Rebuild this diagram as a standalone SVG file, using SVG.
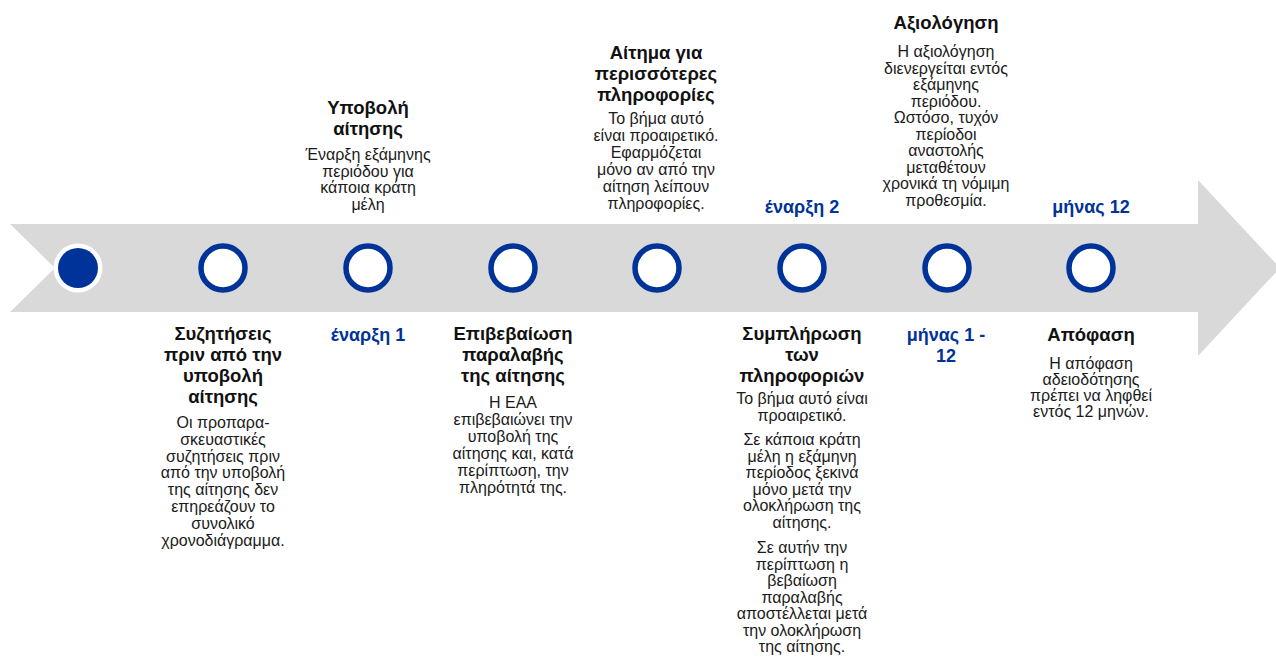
<svg xmlns="http://www.w3.org/2000/svg" width="1276" height="659" viewBox="0 0 1276 659">
<style>
text{font-family:"Liberation Sans",Arial,sans-serif;text-anchor:middle;fill:#1a1a1a}
.t{font-size:18.5px;font-weight:bold;fill:#111}
.b{font-size:16px}
.m{font-size:18px;font-weight:bold;fill:#003399}
.ring{fill:#fff;stroke:#003399;stroke-width:5.5}
</style>
<rect width="1276" height="659" fill="#fff"/>
<g id="connectors">
<path d="M10,224 L1198,224 L1198,180 L1280,268 L1198,356 L1198,312 L10,312 L55,268 Z" fill="#d9d9d9"/>
</g>
<g id="n1">
<circle cx="78" cy="268" r="24.5" fill="#fff"/>
<circle cx="78" cy="268" r="20" fill="#003399"/>
</g>
<g id="n2">
<circle class="ring" cx="223" cy="268" r="22"/>
<text class="t" x="223" y="340">Συζητήσεις</text>
<text class="t" x="223" y="361">πριν από την</text>
<text class="t" x="223" y="382">υποβολή</text>
<text class="t" x="223" y="403">αίτησης</text>
<text class="b" x="223" y="428">Οι προπαρα-</text>
<text class="b" x="223" y="444.8">σκευαστικές</text>
<text class="b" x="223" y="461.6">συζητήσεις πριν</text>
<text class="b" x="223" y="478.4">από την υποβολή</text>
<text class="b" x="223" y="495.2">της αίτησης δεν</text>
<text class="b" x="223" y="512">επηρεάζουν το</text>
<text class="b" x="223" y="528.8">συνολικό</text>
<text class="b" x="223" y="545.6">χρονοδιάγραμμα.</text>
</g>
<g id="n3">
<circle class="ring" cx="368" cy="268" r="22"/>
<text class="t" x="368" y="114">Υποβολή</text>
<text class="t" x="368" y="135">αίτησης</text>
<text class="b" x="368" y="160">Έναρξη εξάμηνης</text>
<text class="b" x="368" y="176.5">περιόδου για</text>
<text class="b" x="368" y="193">κάποια κράτη</text>
<text class="b" x="368" y="209.5">μέλη</text>
<text class="m" x="368" y="341">έναρξη 1</text>
</g>
<g id="n4">
<circle class="ring" cx="513" cy="268" r="22"/>
<text class="t" x="513" y="340">Επιβεβαίωση</text>
<text class="t" x="513" y="361">παραλαβής</text>
<text class="t" x="513" y="382">της αίτησης</text>
<text class="b" x="513" y="408">Η ΕΑΑ</text>
<text class="b" x="513" y="425">επιβεβαιώνει την</text>
<text class="b" x="513" y="442">υποβολή της</text>
<text class="b" x="513" y="459">αίτησης και, κατά</text>
<text class="b" x="513" y="476">περίπτωση, την</text>
<text class="b" x="513" y="493">πληρότητά της.</text>
</g>
<g id="n5">
<circle class="ring" cx="657" cy="268" r="22"/>
<text class="t" x="656" y="59">Αίτημα για</text>
<text class="t" x="656" y="80">περισσότερες</text>
<text class="t" x="656" y="101">πληροφορίες</text>
<text class="b" x="656" y="124">Το βήμα αυτό</text>
<text class="b" x="656" y="141">είναι προαιρετικό.</text>
<text class="b" x="656" y="158">Εφαρμόζεται</text>
<text class="b" x="656" y="175">μόνο αν από την</text>
<text class="b" x="656" y="192">αίτηση λείπουν</text>
<text class="b" x="656" y="209">πληροφορίες.</text>
</g>
<g id="n6">
<circle class="ring" cx="802" cy="268" r="22"/>
<text class="m" x="802" y="213">έναρξη 2</text>
<text class="t" x="802" y="340">Συμπλήρωση</text>
<text class="t" x="802" y="361">των</text>
<text class="t" x="802" y="382">πληροφοριών</text>
<text class="b" x="802" y="404">Το βήμα αυτό είναι</text>
<text class="b" x="802" y="420.5">προαιρετικό.</text>
<text class="b" x="802" y="445">Σε κάποια κράτη</text>
<text class="b" x="802" y="461.5">μέλη η εξάμηνη</text>
<text class="b" x="802" y="478">περίοδος ξεκινά</text>
<text class="b" x="802" y="494.5">μόνο μετά την</text>
<text class="b" x="802" y="511">ολοκλήρωση της</text>
<text class="b" x="802" y="527.5">αίτησης.</text>
<text class="b" x="802" y="553">Σε αυτήν την</text>
<text class="b" x="802" y="569.5">περίπτωση η</text>
<text class="b" x="802" y="586">βεβαίωση</text>
<text class="b" x="802" y="602.5">παραλαβής</text>
<text class="b" x="802" y="619">αποστέλλεται μετά</text>
<text class="b" x="802" y="635.5">την ολοκλήρωση</text>
<text class="b" x="802" y="652">της αίτησης.</text>
</g>
<g id="n7">
<circle class="ring" cx="947" cy="268" r="22"/>
<text class="t" x="946" y="29">Αξιολόγηση</text>
<text class="b" x="946" y="57">Η αξιολόγηση</text>
<text class="b" x="946" y="73.5">διενεργείται εντός</text>
<text class="b" x="946" y="90">εξάμηνης</text>
<text class="b" x="946" y="106.5">περιόδου.</text>
<text class="b" x="946" y="123">Ωστόσο, τυχόν</text>
<text class="b" x="946" y="139.5">περίοδοι</text>
<text class="b" x="946" y="156">αναστολής</text>
<text class="b" x="946" y="172.5">μεταθέτουν</text>
<text class="b" x="946" y="189">χρονικά τη νόμιμη</text>
<text class="b" x="946" y="205.5">προθεσμία.</text>
<text class="m" x="946" y="341">μήνας 1 -</text>
<text class="m" x="946" y="362">12</text>
</g>
<g id="n8">
<circle class="ring" cx="1091" cy="268" r="22"/>
<text class="m" x="1091" y="213">μήνας 12</text>
<text class="t" x="1091" y="341">Απόφαση</text>
<text class="b" x="1091" y="369">Η απόφαση</text>
<text class="b" x="1091" y="385">αδειοδότησης</text>
<text class="b" x="1091" y="401">πρέπει να ληφθεί</text>
<text class="b" x="1091" y="417">εντός 12 μηνών.</text>
</g>
</svg>
